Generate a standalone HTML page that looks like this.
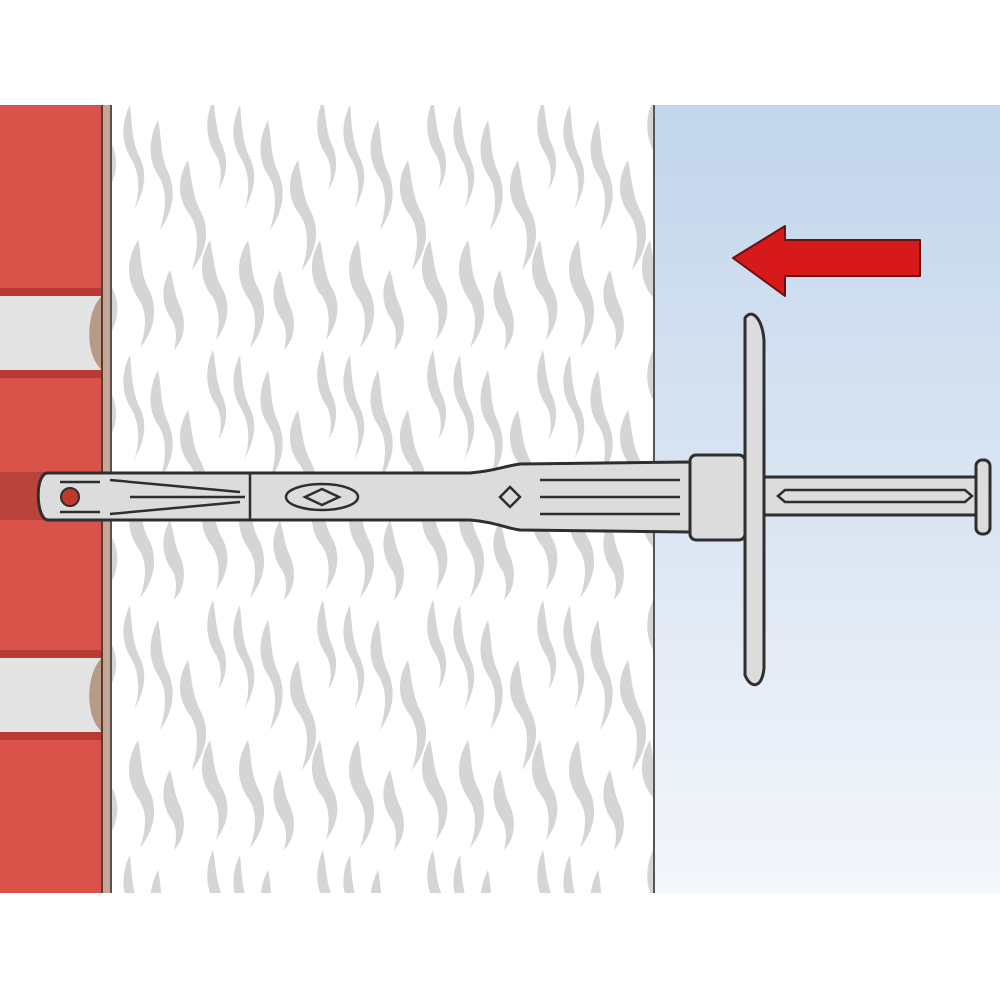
<!DOCTYPE html>
<html><head><meta charset="utf-8"><style>html,body{margin:0;padding:0;background:#fff}svg{display:block}</style></head>
<body>
<svg width="1000" height="1000" viewBox="0 0 1000 1000" xmlns="http://www.w3.org/2000/svg">
<defs>
<linearGradient id="blue" x1="0" y1="0" x2="0" y2="1">
<stop offset="0" stop-color="#c3d6ec"/><stop offset="0.6" stop-color="#dfe8f4"/><stop offset="1" stop-color="#f4f7fb"/>
</linearGradient>
<pattern id="fl" x="118" y="100" width="110" height="250" patternUnits="userSpaceOnUse">
<g fill="#d5d5d5">
<path d="M12 5 C2 25 4 45 14 60 C22 75 22 95 16 110 C26 92 30 75 22 58 C14 42 14 25 12 5Z"/>
<path d="M40 20 C30 40 30 60 40 75 C50 90 48 110 42 130 C56 110 58 90 50 72 C42 55 44 38 40 20Z"/>
<path d="M70 60 C58 80 60 100 72 115 C82 130 80 150 74 170 C90 150 92 128 82 110 C74 94 74 78 70 60Z"/>
<path d="M95 0 C86 20 88 40 98 55 C104 65 104 80 100 90 C110 75 110 58 104 45 C98 32 98 15 95 0Z"/>
<path d="M20 140 C8 160 8 180 20 198 C30 212 28 230 22 248 C38 228 40 206 30 188 C22 172 24 156 20 140Z"/>
<path d="M52 170 C42 188 44 206 54 220 C60 230 58 242 56 250 C68 238 68 220 62 206 C56 194 56 182 52 170Z"/>
<path d="M92 140 C80 160 82 182 94 196 C102 208 102 225 98 240 C112 222 112 202 104 188 C96 174 96 158 92 140Z"/>
</g>
</pattern>
</defs>
<rect width="1000" height="1000" fill="#fff"/>
<!-- insulation -->
<rect x="112" y="105" width="542" height="788" fill="url(#fl)"/>
<!-- blue panel -->
<rect x="654" y="105" width="346" height="788" fill="url(#blue)"/>
<line x1="654" y1="105" x2="654" y2="893" stroke="#555" stroke-width="2"/>
<!-- brick -->
<rect x="0" y="105" width="102" height="788" fill="#d9534a"/>
<g fill="#b83a33">
<rect x="0" y="288" width="102" height="8"/><rect x="0" y="370" width="102" height="8"/>
<rect x="0" y="650" width="102" height="8"/><rect x="0" y="732" width="102" height="8"/>
</g>
<rect x="0" y="296" width="102" height="74" fill="#e4e4e4"/>
<rect x="0" y="658" width="102" height="74" fill="#e4e4e4"/>
<path d="M102 296 C86 310 84 355 102 370Z" fill="#b89a88"/>
<path d="M102 658 C86 672 84 717 102 732Z" fill="#b89a88"/>
<rect x="0" y="472" width="102" height="48" fill="#b8433b"/>
<rect x="102" y="105" width="8" height="788" fill="#c4a896"/>
<line x1="102" y1="105" x2="102" y2="893" stroke="#5a3a30" stroke-width="2"/>
<line x1="111" y1="105" x2="111" y2="893" stroke="#5a5050" stroke-width="2"/>
<!-- anchor shaft -->
<g stroke="#2e2e2e" stroke-width="3" fill="#dcdcdc" stroke-linejoin="round">
<path d="M48 473 L470 473 C495 471 505 466 520 464 L690 462 L690 532 L520 530 C505 528 495 522 470 520 L48 520 C36 520 34 473 48 473Z"/>
<rect x="690" y="455" width="55" height="85" rx="6"/>
<path d="M745 318 C752 308 762 318 764 340 L764 668 C762 690 750 688 745 675Z"/>
<rect x="764" y="477" width="215" height="38"/>
<rect x="976" y="460" width="14" height="74" rx="6"/>
</g>
<g stroke="#2e2e2e" stroke-width="2.5" fill="none">
<path d="M540 480 L680 480 M540 497 L680 497 M540 514 L680 514"/>
<path d="M785 490 L965 490 L972 496 L965 502 L785 502 L778 496Z"/>
<ellipse cx="322" cy="497" rx="36" ry="13"/>
<path d="M305 497 L322 489 L339 497 L322 505Z"/>
<path d="M500 497 L510 487 L520 497 L510 507Z"/>
<line x1="250" y1="473" x2="250" y2="520"/>
<path d="M60 482 L100 482 M60 512 L100 512 M110 480 L240 492 M110 514 L240 502 M130 497 L245 497"/>
</g>
<circle cx="70" cy="497" r="9" fill="#c0392b" stroke="#2e2e2e" stroke-width="2"/>
<!-- red arrow -->
<path d="M733 258 L785 226 L785 240 L920 240 L920 276 L785 276 L785 296Z" fill="#d7191c" stroke="#6a1010" stroke-width="2" stroke-linejoin="round"/>
</svg>
</body></html>
